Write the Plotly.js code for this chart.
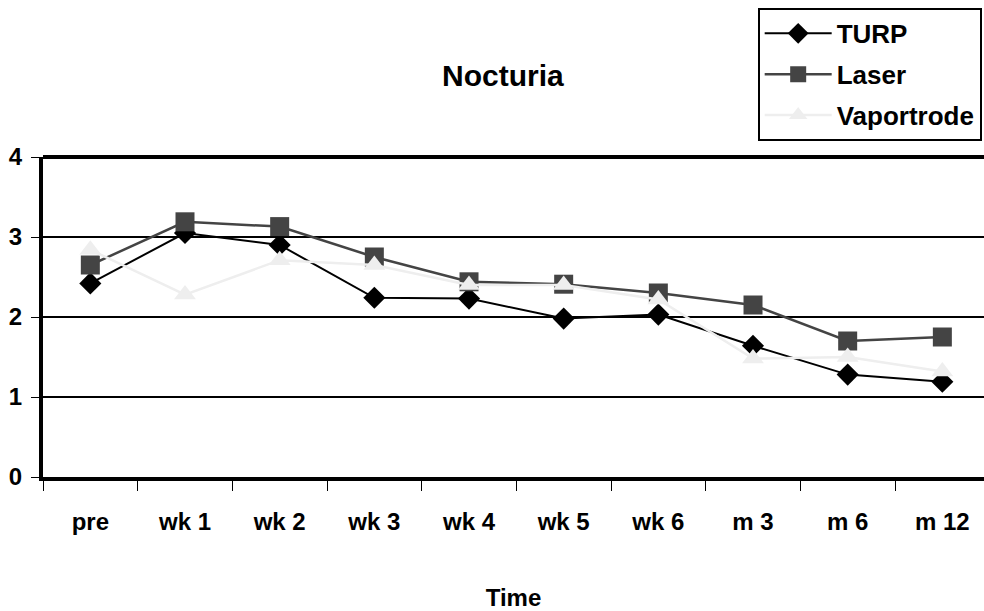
<!DOCTYPE html>
<html><head><meta charset="utf-8">
<script src="https://cdn.plot.ly/plotly-3.0.1.min.js"></script>
<style>html,body{margin:0;padding:0;background:#fff}#chart{width:984px;height:611px}</style>
</head><body><div id="chart"></div>
<script>
const categories = ["pre","wk 1","wk 2","wk 3","wk 4","wk 5","wk 6","m 3","m 6","m 12"];
const turp = [2.42,3.05,2.90,2.24,2.23,1.98,2.03,1.64,1.28,1.19];
const laser = [2.65,3.19,3.13,2.75,2.44,2.41,2.30,2.15,1.70,1.75];
const vaportrode = [2.84,2.28,2.71,2.65,2.40,2.40,2.22,1.48,1.50,1.32];
const yTicks = [0,1,2,3,4];

const font = {family:"Liberation Sans, Arial, sans-serif", color:"#000"};
const traces = [
 {x:categories, y:turp, name:"<b>TURP</b>", type:"scatter", mode:"lines+markers", legendgroup:"a",
  line:{color:"#000000", width:2}, marker:{symbol:"diamond", size:17, color:"#000000"}},
 {x:categories, y:laser, name:"<b>Laser</b>", type:"scatter", mode:"lines+markers", legendgroup:"b",
  line:{color:"#444444", width:2.5}, marker:{symbol:"square", size:19, color:"#444444"}},
 {x:categories, y:vaportrode, name:"<b>Vaportrode</b>", type:"scatter", mode:"lines+markers", legendgroup:"c",
  line:{color:"#eeeeee", width:2.5}, marker:{symbol:"triangle-up", size:19, color:"#eeeeee"}}
];
const layout = {
 width:984, height:611,
 margin:{l:43, r:0, t:157, b:134, autoexpand:false},
 paper_bgcolor:"#fff", plot_bgcolor:"#fff",
 font:font,
 title:{text:"<b>Nocturia</b>", font:{...font, size:30}, x:0.511, xanchor:"center", y:0.876, yanchor:"middle", xref:"container", yref:"container"},
 showlegend:true,
 legend:{xref:"container", yref:"container", x:0.770, y:0.987, xanchor:"left", yanchor:"top",
   bordercolor:"#000", borderwidth:2, bgcolor:"#fff", font:{...font, size:26}, itemwidth:67, tracegroupgap:4},
 xaxis:{type:"category", range:[-0.5, 9.44], tickson:"boundaries", ticks:"outside", ticklen:10, tickwidth:1, tickcolor:"#000",
   showline:true, linecolor:"#000", linewidth:4, mirror:false, showgrid:false, zeroline:false,
   tickfont:{...font, size:24}, ticklabelstandoff:20,
   tickvals:categories, ticktext:categories.map(c=>"<b>"+c+"</b>"),
   title:{text:"<b>Time</b>", font:{...font, size:24}, standoff:59}},
 yaxis:{range:[0,4], tickvals:yTicks, ticktext:yTicks.map(v=>"<b>"+v+"</b>"), ticks:"outside", ticklen:8, tickwidth:1, tickcolor:"#000",
   showline:true, linecolor:"#000", linewidth:4, showgrid:true, gridcolor:"#000", gridwidth:2, zeroline:false,
   tickfont:{...font, size:24}, ticklabelstandoff:4},
 shapes:[{type:"line", xref:"paper", yref:"paper", x0:0, x1:1, y0:1, y1:1, line:{color:"#000", width:4}}]
};
Plotly.newPlot("chart", traces, layout, {displayModeBar:false, staticPlot:true});
</script></body></html>
